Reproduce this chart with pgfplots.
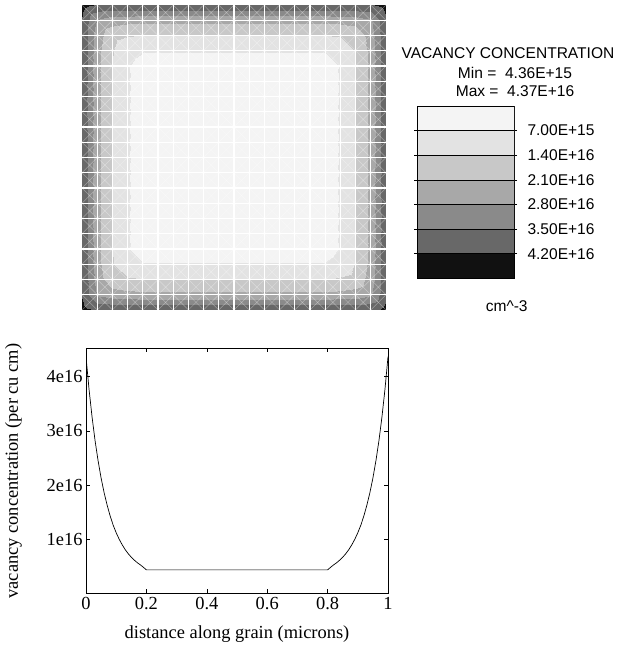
\documentclass[border=0pt]{standalone}
\usepackage{fontspec}
\setmainfont{Liberation Sans}
\newfontfamily\timesfont{Liberation Serif}
\usepackage{pgfplots}
\pgfplotsset{compat=1.18}

% grey levels of the contour bands, lowest to highest
\definecolor{band0}{RGB}{244,244,244}
\definecolor{band1}{RGB}{227,227,227}
\definecolor{band2}{RGB}{200,200,200}
\definecolor{band3}{RGB}{168,168,168}
\definecolor{band4}{RGB}{138,138,138}
\definecolor{band5}{RGB}{104,104,104}
\definecolor{band6}{RGB}{17,17,17}

\newcommand{\legfont}{\fontsize{15.6}{18}\selectfont}
\newcommand{\plotfont}{\timesfont\fontsize{18.5}{21}\selectfont}

% node values on the grain (units of 1e16 per cu cm)
\pgfplotstableread{
x y z
0 0 4.37
0.007 0 4.34
0.05 0 4.15
0.1 0 4.15
0.15 0 4.15
0.2 0 4.15
0.8 0 4.15
0.85 0 4.15
0.9 0 4.15
0.95 0 4.15
0.993 0 4.34
1 0 4.37

0 0.007 4.34
0.007 0.007 4.25
0.05 0.007 3.95
0.1 0.007 3.91
0.15 0.007 3.9
0.2 0.007 3.89
0.8 0.007 3.89
0.85 0.007 3.9
0.9 0.007 3.91
0.95 0.007 3.95
0.993 0.007 4.25
1 0.007 4.34

0 0.05 4.15
0.007 0.05 3.95
0.05 0.05 2.75
0.1 0.05 2.45
0.15 0.05 2.33
0.2 0.05 2.3
0.8 0.05 2.3
0.85 0.05 2.33
0.9 0.05 2.45
0.95 0.05 2.75
0.993 0.05 3.95
1 0.05 4.15

0 0.1 4.15
0.007 0.1 3.91
0.05 0.1 2.45
0.1 0.1 1.6
0.15 0.1 1.46
0.2 0.1 1.41
0.8 0.1 1.41
0.85 0.1 1.46
0.9 0.1 1.6
0.95 0.1 2.45
0.993 0.1 3.91
1 0.1 4.15

0 0.15 4.15
0.007 0.15 3.9
0.05 0.15 2.33
0.1 0.15 1.46
0.15 0.15 0.95
0.2 0.15 0.74
0.8 0.15 0.74
0.85 0.15 0.95
0.9 0.15 1.46
0.95 0.15 2.33
0.993 0.15 3.9
1 0.15 4.15

0 0.2 4.15
0.007 0.2 3.89
0.05 0.2 2.3
0.1 0.2 1.41
0.15 0.2 0.74
0.2 0.2 0.436
0.8 0.2 0.436
0.85 0.2 0.74
0.9 0.2 1.41
0.95 0.2 2.3
0.993 0.2 3.89
1 0.2 4.15

0 0.8 4.15
0.007 0.8 3.89
0.05 0.8 2.3
0.1 0.8 1.41
0.15 0.8 0.74
0.2 0.8 0.436
0.8 0.8 0.436
0.85 0.8 0.74
0.9 0.8 1.41
0.95 0.8 2.3
0.993 0.8 3.89
1 0.8 4.15

0 0.85 4.15
0.007 0.85 3.9
0.05 0.85 2.33
0.1 0.85 1.46
0.15 0.85 0.95
0.2 0.85 0.74
0.8 0.85 0.74
0.85 0.85 0.95
0.9 0.85 1.46
0.95 0.85 2.33
0.993 0.85 3.9
1 0.85 4.15

0 0.9 4.15
0.007 0.9 3.91
0.05 0.9 2.45
0.1 0.9 1.6
0.15 0.9 1.46
0.2 0.9 1.41
0.8 0.9 1.41
0.85 0.9 1.46
0.9 0.9 1.6
0.95 0.9 2.45
0.993 0.9 3.91
1 0.9 4.15

0 0.95 4.15
0.007 0.95 3.95
0.05 0.95 2.75
0.1 0.95 2.45
0.15 0.95 2.33
0.2 0.95 2.3
0.8 0.95 2.3
0.85 0.95 2.33
0.9 0.95 2.45
0.95 0.95 2.75
0.993 0.95 3.95
1 0.95 4.15

0 0.993 4.34
0.007 0.993 4.25
0.05 0.993 3.95
0.1 0.993 3.91
0.15 0.993 3.9
0.2 0.993 3.89
0.8 0.993 3.89
0.85 0.993 3.9
0.9 0.993 3.91
0.95 0.993 3.95
0.993 0.993 4.25
1 0.993 4.34

0 1 4.37
0.007 1 4.34
0.05 1 4.15
0.1 1 4.15
0.15 1 4.15
0.2 1 4.15
0.8 1 4.15
0.85 1 4.15
0.9 1 4.15
0.95 1 4.15
0.993 1 4.34
1 1 4.37
}\grainmesh

\begin{document}
\begin{tikzpicture}[x=1bp,y=1bp]
\path (0,0) rectangle (623,646);

% ---- contour map of the grain
\begin{axis}[
    at={(82bp,336bp)}, anchor=south west,
    width=304bp, height=305bp, scale only axis,
    view={0}{90},
    xmin=0, xmax=1, ymin=0, ymax=1,
    xtick={0.05,0.1,0.15,0.2,0.25,0.3,0.35,0.4,0.45,0.5,0.55,0.6,0.65,0.7,0.75,0.8,0.85,0.9,0.95},
    ytick={0.05,0.1,0.15,0.2,0.25,0.3,0.35,0.4,0.45,0.5,0.55,0.6,0.65,0.7,0.75,0.8,0.85,0.9,0.95},
    ztick=\empty,
    xticklabels={}, yticklabels={},
    major tick length=0pt,
    xmajorgrids, ymajorgrids,
    grid style={white, line width=1.3bp},
    axis line style={draw=none},
    axis on top,
    % seven bands of 0.7e16 each
    colormap={vac}{color=(band0) color=(band1) color=(band2) color=(band3)
                   color=(band4) color=(band5) color=(band6)},
    colormap access=piecewise constant,
    point meta min=0, point meta max=4.9,
    ]
\addplot3[surf, shader=interp, mesh/cols=12] table {\grainmesh};
\end{axis}

% diagonals of the mesh cells
\begin{scope}
\clip (82,336) rectangle (386,641);
\foreach \k in {-20,...,20} {
  \draw[white, opacity=0.35, line width=0.5bp] (82+\k*15.2,336) -- ++(304,305);
  \draw[white, opacity=0.35, line width=0.5bp] (82+\k*15.2,641) -- ++(304,-305);
}
\end{scope}

% ---- legend bar
\begin{axis}[
    at={(417bp,367.7bp)}, anchor=south west,
    width=97bp, height=172.3bp, scale only axis,
    xmin=0, xmax=1, ymin=0, ymax=7,
    xtick=\empty,
    ytick={1,2,3,4,5,6},
    yticklabels={4.20E+16,3.50E+16,2.80E+16,2.10E+16,1.40E+16,7.00E+15},
    yticklabel pos=right,
    tick align=outside, major tick length=3bp,
    tick style={black, line width=0.6bp},
    axis line style={line width=0.6bp},
    tick label style={font=\legfont},
    yticklabel style={xshift=7bp},
    ]
\addplot[fill=band6, draw=black, line width=0.6bp] coordinates {(0,0) (1,0) (1,1) (0,1) (0,0)};
\addplot[fill=band5, draw=black, line width=0.6bp] coordinates {(0,1) (1,1) (1,2) (0,2) (0,1)};
\addplot[fill=band4, draw=black, line width=0.6bp] coordinates {(0,2) (1,2) (1,3) (0,3) (0,2)};
\addplot[fill=band3, draw=black, line width=0.6bp] coordinates {(0,3) (1,3) (1,4) (0,4) (0,3)};
\addplot[fill=band2, draw=black, line width=0.6bp] coordinates {(0,4) (1,4) (1,5) (0,5) (0,4)};
\addplot[fill=band1, draw=black, line width=0.6bp] coordinates {(0,5) (1,5) (1,6) (0,6) (0,5)};
\addplot[fill=band0, draw=black, line width=0.6bp] coordinates {(0,6) (1,6) (1,7) (0,7) (0,6)};
\end{axis}

\node[font=\legfont] at (508,592.7) {VACANCY CONCENTRATION};
\node[font=\legfont] at (515,572.7) {Min =\ \ 4.36E+15};
\node[font=\legfont] at (515,555) {Max =\ \ 4.37E+16};
\node[font=\legfont] at (506.7,340) {cm\textasciicircum-3};

% ---- profile along the grain
\begin{axis}[
    at={(86bp,52.5bp)}, anchor=south west,
    width=302bp, height=245bp, scale only axis,
    xmin=0, xmax=1, ymin=0, ymax=4.52e16,
    xtick={0,0.2,0.4,0.6,0.8,1},
    xticklabels={0,0.2,0.4,0.6,0.8,1},
    ytick={1e16,2e16,3e16,4e16},
    yticklabels={1e16,2e16,3e16,4e16},
    scaled y ticks=false,
    major tick length=4bp,
    tick style={black, line width=0.6bp},
    axis line style={line width=0.9bp},
    tick label style={font=\plotfont},
    xlabel={distance along grain (microns)},
    ylabel={vacancy concentration (per cu cm)},
    every axis y label/.style={at={(axis description cs:-0.24,0.5)}, rotate=90, anchor=center, font=\plotfont},
    every axis x label/.style={at={(axis description cs:0.5,-0.182)}, anchor=base, font=\plotfont},
    ]
\addplot[black, line width=0.7bp, mark=none] coordinates {
(0,4.37e16) (0.01,3.77e16) (0.02,3.26e16) (0.03,2.82e16) (0.04,2.45e16)
(0.05,2.13e16) (0.06,1.86e16) (0.07,1.63e16) (0.08,1.43e16) (0.09,1.26e16)
(0.1,1.12e16) (0.11,1.0e16) (0.12,0.897e16) (0.13,0.808e16) (0.14,0.733e16)
(0.15,0.669e16) (0.16,0.615e16) (0.17,0.568e16) (0.18,0.528e16) (0.19,0.484e16)
(0.2,0.436e16) (0.8,0.436e16)
(0.81,0.484e16) (0.82,0.528e16) (0.83,0.568e16) (0.84,0.615e16) (0.85,0.669e16)
(0.86,0.733e16) (0.87,0.808e16) (0.88,0.897e16) (0.89,1.0e16) (0.9,1.12e16)
(0.91,1.26e16) (0.92,1.43e16) (0.93,1.63e16) (0.94,1.86e16) (0.95,2.13e16)
(0.96,2.45e16) (0.97,2.82e16) (0.98,3.26e16) (0.99,3.77e16) (1,4.37e16)
};
\end{axis}
\end{tikzpicture}
\end{document}
